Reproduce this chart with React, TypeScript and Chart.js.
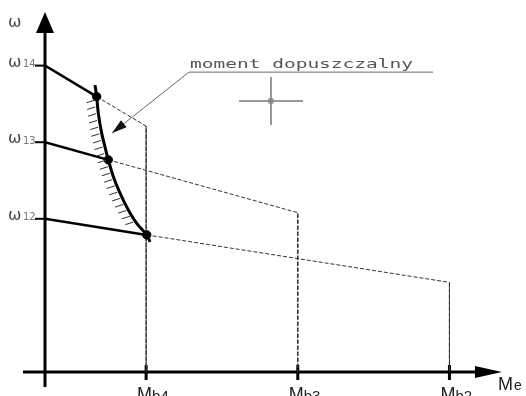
import { useEffect, useRef } from 'react';
import { Chart, registerables } from 'chart.js';

Chart.register(...registerables);

// Rotor speeds of the three characteristics (ω14, ω13, ω12)
const speedLevels = [8, 6, 4];
const speedSubscripts = ['14', '13', '12'];
// Breakdown torques on the M axis (Mb4, Mb3, Mb2)
const breakdownTorque = [1.0, 2.5, 4.0];
const torqueSubscripts = ['b4', 'b3', 'b2'];
// Speed of each characteristic where it reaches its breakdown torque
const speedAtBreakdown = [6.42, 4.16, 2.34];
// Points where each characteristic meets the permissible-torque curve
const limitTorque = [0.511, 0.626, 1.006];
const limitSpeed = [7.19, 5.54, 3.58];
// Permissible-torque curve
const curveTorque = [0.495, 0.511, 0.527, 0.561, 0.593, 0.626, 0.676, 0.742, 0.824, 0.907, 1.006, 1.039];
const curveSpeed = [7.49, 7.19, 6.76, 6.23, 5.88, 5.54, 5.1, 4.67, 4.23, 3.88, 3.58, 3.4];
// Callout leader (underline end, knee, arrow tip)
const calloutText = 'moment dopuszczalny';
const calloutTorque = [3.838, 1.424, 0.663];
const calloutSpeed = [7.83, 7.83, 6.24];
// Cursor cross
const cursorTorque = [1.919, 2.235, 2.552];
const cursorSpeed = [6.45, 7.076, 7.7];

const CURVE_INDEX = 1;
const CALLOUT_INDEX = 5;

const axesPlugin = {
  id: 'axesArrows',
  beforeDatasetsDraw(chart: any) {
    const { ctx, scales } = chart;
    const xs = scales.x;
    const ys = scales.y;
    const x0 = xs.getPixelForValue(0);
    const y0 = ys.getPixelForValue(0);
    ctx.save();
    ctx.strokeStyle = '#000';
    ctx.fillStyle = '#000';
    ctx.lineWidth = 3;
    ctx.beginPath();
    ctx.moveTo(x0, y0 + 15);
    ctx.lineTo(x0, ys.top + 20);
    ctx.stroke();
    ctx.beginPath();
    ctx.moveTo(x0, ys.top);
    ctx.lineTo(x0 - 9, ys.top + 21);
    ctx.lineTo(x0 + 9, ys.top + 21);
    ctx.closePath();
    ctx.fill();
    ctx.beginPath();
    ctx.moveTo(x0 - 22, y0);
    ctx.lineTo(xs.right - 24, y0);
    ctx.stroke();
    ctx.beginPath();
    ctx.moveTo(xs.right + 2, y0);
    ctx.lineTo(xs.right - 25, y0 - 6);
    ctx.lineTo(xs.right - 25, y0 + 6);
    ctx.closePath();
    ctx.fill();
    // torque ticks
    ctx.lineWidth = 3;
    breakdownTorque.forEach((m) => {
      const px = xs.getPixelForValue(m);
      ctx.beginPath();
      ctx.moveTo(px, y0 - 7);
      ctx.lineTo(px, y0 + 8);
      ctx.stroke();
    });
    // speed ticks
    ctx.lineWidth = 2;
    speedLevels.forEach((w) => {
      const py = ys.getPixelForValue(w);
      ctx.beginPath();
      ctx.moveTo(x0 - 10, py);
      ctx.lineTo(x0, py);
      ctx.stroke();
    });
    ctx.restore();
  },
  afterDatasetsDraw(chart: any) {
    const { ctx } = chart;
    // hatching on the permissible side of the curve
    const pts = chart.getDatasetMeta(CURVE_INDEX).data.map((p: any) => ({ x: p.x, y: p.y }));
    const lens = [0];
    for (let i = 1; i < pts.length; i++) {
      lens.push(lens[i - 1] + Math.hypot(pts[i].x - pts[i - 1].x, pts[i].y - pts[i - 1].y));
    }
    const total = lens[lens.length - 1];
    ctx.save();
    ctx.strokeStyle = '#333';
    ctx.lineWidth = 1;
    for (let s = total * 0.09; s <= total * 0.88; s += 6.8) {
      let i = 1;
      while (i < lens.length - 1 && lens[i] < s) i++;
      const t = (s - lens[i - 1]) / (lens[i] - lens[i - 1] || 1);
      const px = pts[i - 1].x + (pts[i].x - pts[i - 1].x) * t;
      const py = pts[i - 1].y + (pts[i].y - pts[i - 1].y) * t;
      ctx.beginPath();
      ctx.moveTo(px - 2.5, py);
      ctx.lineTo(px - 10.5, py + 2.5);
      ctx.stroke();
    }
    // callout arrow head
    const cp = chart.getDatasetMeta(CALLOUT_INDEX).data;
    const knee = cp[1];
    const tip = cp[2];
    const ang = Math.atan2(tip.y - knee.y, tip.x - knee.x);
    const len = 15;
    const half = 4.5;
    const bx = tip.x - Math.cos(ang) * len;
    const by = tip.y - Math.sin(ang) * len;
    ctx.fillStyle = '#111';
    ctx.beginPath();
    ctx.moveTo(tip.x, tip.y);
    ctx.lineTo(bx - Math.sin(ang) * half, by + Math.cos(ang) * half);
    ctx.lineTo(bx + Math.sin(ang) * half, by - Math.cos(ang) * half);
    ctx.closePath();
    ctx.fill();
    // callout text
    ctx.fillStyle = '#555';
    ctx.font = '13px "DejaVu Sans Mono"';
    ctx.textBaseline = 'alphabetic';
    ctx.save();
    ctx.translate(knee.x + 1, knee.y - 4.5);
    ctx.scale(1.5, 1);
    ctx.fillText(calloutText, 0, 0);
    ctx.restore();
    ctx.restore();
  },
  afterDraw(chart: any) {
    const { ctx, scales } = chart;
    const xs = scales.x;
    const ys = scales.y;
    const y0 = ys.getPixelForValue(0);
    ctx.save();
    ctx.textBaseline = 'alphabetic';
    // ω axis name
    ctx.fillStyle = '#444';
    ctx.font = '16px "DejaVu Sans"';
    ctx.fillText('ω', 8, ys.top + 15);
    // speed labels
    speedLevels.forEach((w, i) => {
      const py = ys.getPixelForValue(w);
      ctx.fillStyle = '#444';
      ctx.font = '16px "DejaVu Sans"';
      ctx.fillText('ω', 8, py + 1);
      ctx.fillStyle = '#777';
      ctx.font = '10px "DejaVu Sans"';
      ctx.fillText(speedSubscripts[i], 23, py + 1.5);
    });
    // torque labels
    breakdownTorque.forEach((m, i) => {
      const px = xs.getPixelForValue(m);
      ctx.fillStyle = '#222';
      ctx.font = '18px "Liberation Sans"';
      ctx.fillText('M', px - 9, y0 + 28);
      ctx.font = '15px "Liberation Sans"';
      ctx.fillText(torqueSubscripts[i], px + 6, y0 + 29);
    });
    // M axis name
    ctx.fillStyle = '#222';
    ctx.font = '18px "Liberation Sans"';
    ctx.fillText('M', xs.right - 2, y0 + 18);
    ctx.font = '14px "Liberation Sans"';
    ctx.fillText('e', xs.right + 14, y0 + 18);
    ctx.restore();
  },
};

export default function App() {
  const canvasRef = useRef<HTMLCanvasElement | null>(null);

  useEffect(() => {
    document.body.style.margin = '0';
    const canvas = canvasRef.current;
    if (!canvas) return;

    const solidThenDashed = {
      borderDash: (c: any) => (c.p0DataIndex === 0 ? undefined : [4, 2]),
      borderWidth: (c: any) => (c.p0DataIndex === 0 ? 2.5 : 1),
      borderColor: (c: any) => (c.p0DataIndex === 0 ? '#000' : '#333'),
    };

    const characteristics = speedLevels.map((w, i) => ({
      label: 'ω' + speedSubscripts[i],
      data: [
        { x: 0, y: w },
        { x: limitTorque[i], y: limitSpeed[i] },
        { x: breakdownTorque[i], y: speedAtBreakdown[i] },
        { x: breakdownTorque[i], y: 0 },
      ],
      showLine: true,
      borderColor: '#000',
      borderWidth: 1,
      pointRadius: 0,
      tension: 0,
      segment: solidThenDashed,
    }));

    const chart = new Chart(canvas, {
      type: 'scatter',
      data: {
        datasets: [
          {
            label: 'limit points',
            data: limitTorque.map((m, i) => ({ x: m, y: limitSpeed[i] })),
            pointRadius: 4.2,
            pointBackgroundColor: '#000',
            pointBorderColor: '#000',
            showLine: false,
          },
          {
            label: 'moment dopuszczalny',
            data: curveTorque.map((m, i) => ({ x: m, y: curveSpeed[i] })),
            showLine: true,
            borderColor: '#000',
            borderWidth: 3,
            pointRadius: 0,
            tension: 0.3,
          },
          ...characteristics,
          {
            label: 'callout',
            data: calloutTorque.map((m, i) => ({ x: m, y: calloutSpeed[i] })),
            showLine: true,
            borderColor: '#666',
            borderWidth: 1,
            pointRadius: 0,
            tension: 0,
          },
          {
            label: 'cursor h',
            data: cursorTorque.map((m) => ({ x: m, y: cursorSpeed[1] })),
            showLine: true,
            borderColor: '#777',
            borderWidth: 1.5,
            pointRadius: [0, 3, 0],
            pointStyle: 'rect',
            pointBorderColor: '#777',
            pointBackgroundColor: 'rgba(0,0,0,0)',
            pointBorderWidth: 1,
          },
          {
            label: 'cursor v',
            data: cursorSpeed.map((w) => ({ x: cursorTorque[1], y: w })),
            showLine: true,
            borderColor: '#777',
            borderWidth: 1.5,
            pointRadius: 0,
          },
        ],
      },
      options: {
        animation: false,
        responsive: false,
        events: [],
        layout: { padding: { left: 45, right: 26, top: 12, bottom: 24 } },
        scales: {
          x: { type: 'linear', min: 0, max: 4.5, display: false },
          y: { type: 'linear', min: 0, max: 9.4, display: false },
        },
        plugins: {
          legend: { display: false },
          tooltip: { enabled: false },
        },
      },
      plugins: [axesPlugin],
    });

    return () => chart.destroy();
  }, []);

  return (
    <div style={{ width: 526, height: 396, background: '#fff' }}>
      <canvas ref={canvasRef} width={526} height={396} style={{ display: 'block' }} />
    </div>
  );
}
